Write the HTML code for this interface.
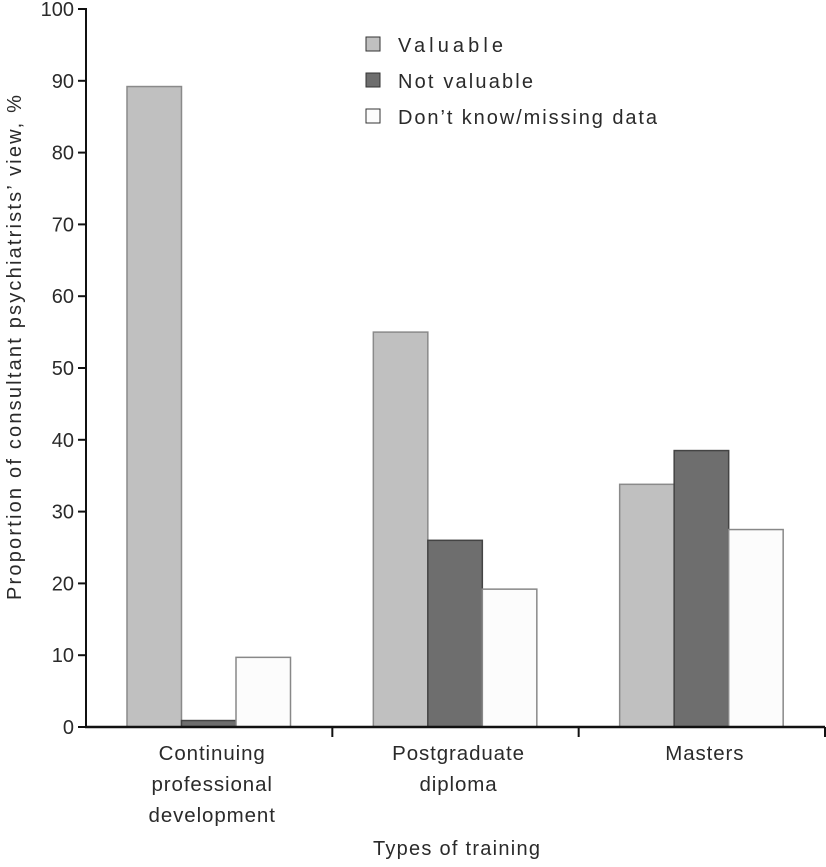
<!DOCTYPE html>
<html><head><meta charset="utf-8"><style>
body{margin:0;background:#fff;}
svg text{font-family:"Liberation Sans",sans-serif;fill:#2a2a2a;}
</style></head><body>
<svg width="826" height="862" xmlns="http://www.w3.org/2000/svg">
<g id="bars"></g>
<g id="axes"></g>
<g>
 <rect x="366" y="37" width="14" height="14" fill="#c0c0c0" stroke="#333"/>
 <text x="398" y="52" font-size="20" textLength="105">Valuable</text>
 <rect x="366" y="73" width="14" height="14" fill="#6e6e6e" stroke="#333"/>
 <text x="398" y="88" font-size="20" textLength="135">Not valuable</text>
 <rect x="366" y="109" width="14" height="14" fill="#fcfcfc" stroke="#333"/>
 <text x="398" y="124" font-size="20" textLength="259">Don’t know/missing data</text>
</g>
<text x="373" y="855" font-size="20" textLength="167">Types of training</text>
<text transform="translate(21,600) rotate(-90)" font-size="20" textLength="505">Proportion of consultant psychiatrists’ view, %</text>
<script>
const categories=[["Continuing","professional","development"],["Postgraduate","diploma"],["Masters"]];
const valuable=[89.2,55,33.8];
const notValuable=[0.9,26,38.5];
const dontKnow=[9.7,19.2,27.5];
const yTicks=[0,10,20,30,40,50,60,70,80,90,100];
const NS="http://www.w3.org/2000/svg";
const x0=86,x1=825,y0=727,yTop=9;
const yS=v=>y0-(y0-yTop)*v/100;
const gw=(x1-x0)/categories.length;
const bw=54.5;
const series=[{d:valuable,f:"#c0c0c0",s:"#8a8a8a",n:"valuable"},{d:notValuable,f:"#6e6e6e",s:"#444",n:"not-valuable"},{d:dontKnow,f:"#fcfcfc",s:"#888",n:"dont-know"}];
function el(t,a,p){const e=document.createElementNS(NS,t);for(const k in a)e.setAttribute(k,a[k]);p.appendChild(e);return e;}
const bars=document.getElementById('bars'),axes=document.getElementById('axes');
categories.forEach((c,i)=>{
 series.forEach((s,j)=>{
  const x=x0+i*gw+41+j*bw,y=yS(s.d[i]);
  const r=el('rect',{x:x,y:y,width:bw,height:y0-y,fill:s.f,stroke:s.s,'stroke-width':1.5},bars);
  
  
 });
 const t=el('text',{'font-size':20.5,'text-anchor':'middle','letter-spacing':'0.9'},axes);
 
 
 c.forEach((line,k)=>{const ts=el('tspan',{x:x0+i*gw+gw/2+3,y:760+k*31},t);ts.textContent=line;});
 const tk=el('line',{x1:x0+(i+1)*gw,x2:x0+(i+1)*gw,y1:y0,y2:y0+10,stroke:'#111','stroke-width':2},axes);
 
 
});
const ya=el('line',{x1:x0,x2:x0,y1:yTop-1,y2:y0+1,stroke:'#111','stroke-width':2},axes);


const xa=el('line',{x1:x0-1,x2:x1,y1:y0,y2:y0,stroke:'#111','stroke-width':2.5},axes);


yTicks.forEach(v=>{
 const l=el('line',{x1:x0-8,x2:x0,y1:yS(v),y2:yS(v),stroke:'#111','stroke-width':2},axes);
 
 
 const t=el('text',{x:x0-12,y:yS(v)+7,'font-size':20,'text-anchor':'end'},axes);
 t.textContent=v;
 
 
});
</script>
</svg>
</body></html>
